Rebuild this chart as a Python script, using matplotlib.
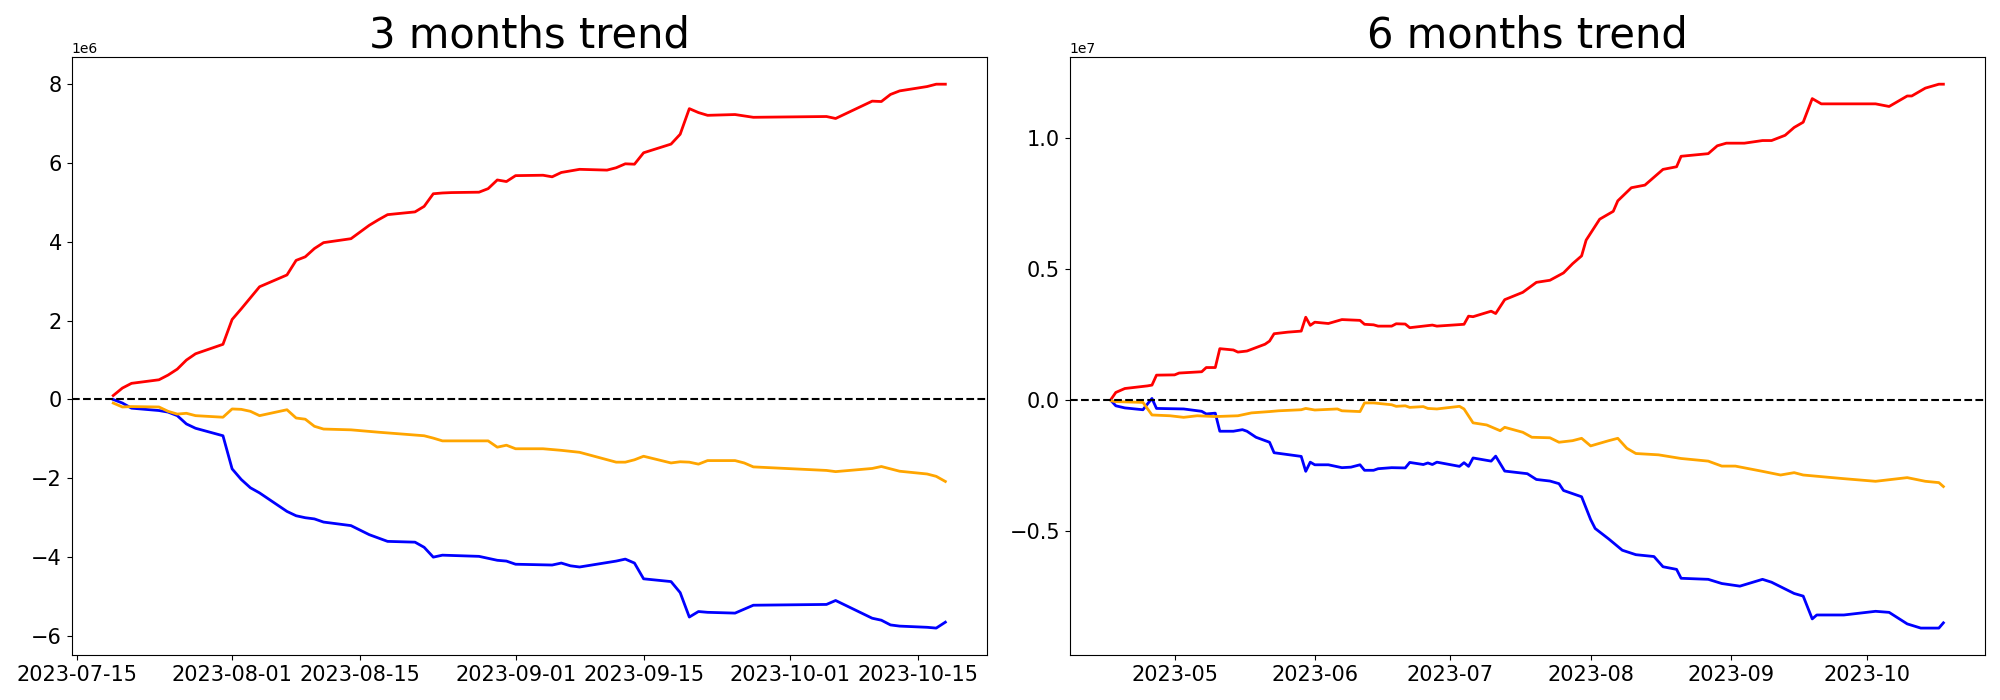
import matplotlib
matplotlib.use("Agg")
import matplotlib.pyplot as plt
import pandas as pd

# ---- 3 months data (values in units of 1e6) ----
red3_dates = ['07-19', '07-20', '07-21', '07-24', '07-25', '07-26', '07-27', '07-28', '07-31',
              '08-01', '08-02', '08-03', '08-04', '08-07', '08-08', '08-09', '08-10', '08-11',
              '08-14', '08-15', '08-16', '08-17', '08-18', '08-21', '08-22', '08-23', '08-24',
              '08-25', '08-28', '08-29', '08-30', '08-31', '09-01', '09-04', '09-05', '09-06',
              '09-08', '09-11', '09-12', '09-13', '09-14', '09-15', '09-18', '09-19', '09-20',
              '09-21', '09-22', '09-25', '09-27', '10-05', '10-06', '10-10', '10-11', '10-12',
              '10-13', '10-16', '10-17', '10-18']
red3_vals = [0.10, 0.29, 0.41, 0.50, 0.62, 0.77, 1.00, 1.16, 1.40,
             2.03, 2.30, 2.58, 2.86, 3.16, 3.53, 3.62, 3.83, 3.98,
             4.08, 4.25, 4.42, 4.56, 4.69, 4.76, 4.90, 5.22, 5.24,
             5.25, 5.26, 5.35, 5.57, 5.53, 5.68, 5.69, 5.65, 5.76,
             5.84, 5.82, 5.88, 5.98, 5.97, 6.26, 6.48, 6.73, 7.38,
             7.28, 7.21, 7.23, 7.16, 7.18, 7.13, 7.57, 7.56, 7.74,
             7.83, 7.94, 8.00, 8.00]

orange3_dates = ['07-19', '07-20', '07-21', '07-24', '07-25', '07-26', '07-27', '07-28', '07-31',
                 '08-01', '08-02', '08-03', '08-04', '08-07', '08-08', '08-09', '08-10', '08-11',
                 '08-14', '08-16', '08-17', '08-22', '08-23', '08-24', '08-25', '08-29', '08-30',
                 '08-31', '09-01', '09-04', '09-06', '09-08', '09-12', '09-13', '09-14', '09-15',
                 '09-18', '09-19', '09-20', '09-21', '09-22', '09-25', '09-26', '09-27', '10-05',
                 '10-06', '10-10', '10-11', '10-13', '10-16', '10-17', '10-18']
orange3_vals = [-0.09, -0.19, -0.18, -0.19, -0.30, -0.37, -0.35, -0.41, -0.45,
                -0.24, -0.25, -0.30, -0.41, -0.26, -0.47, -0.50, -0.68, -0.75,
                -0.77, -0.81, -0.83, -0.92, -0.98, -1.05, -1.05, -1.05, -1.21,
                -1.16, -1.25, -1.25, -1.29, -1.34, -1.59, -1.59, -1.53, -1.44,
                -1.61, -1.58, -1.59, -1.64, -1.55, -1.55, -1.61, -1.71, -1.80,
                -1.83, -1.75, -1.70, -1.82, -1.89, -1.95, -2.08]

blue3_dates = ['07-19', '07-20', '07-21', '07-24', '07-25', '07-26', '07-27', '07-28', '07-31',
               '08-01', '08-02', '08-03', '08-04', '08-07', '08-08', '08-09', '08-10', '08-11',
               '08-14', '08-16', '08-18', '08-21', '08-22', '08-23', '08-24', '08-28', '08-30',
               '08-31', '09-01', '09-05', '09-06', '09-07', '09-08', '09-12', '09-13', '09-14',
               '09-15', '09-18', '09-19', '09-20', '09-21', '09-22', '09-25', '09-27', '10-05',
               '10-06', '10-10', '10-11', '10-12', '10-13', '10-16', '10-17', '10-18']
blue3_vals = [0.00, -0.09, -0.22, -0.28, -0.32, -0.41, -0.62, -0.73, -0.92,
              -1.76, -2.03, -2.24, -2.37, -2.84, -2.95, -3.00, -3.03, -3.11,
              -3.20, -3.43, -3.60, -3.62, -3.75, -4.00, -3.95, -3.98, -4.08,
              -4.10, -4.18, -4.20, -4.15, -4.22, -4.25, -4.10, -4.05, -4.15,
              -4.55, -4.62, -4.90, -5.52, -5.38, -5.40, -5.42, -5.22, -5.20,
              -5.10, -5.55, -5.60, -5.72, -5.75, -5.78, -5.80, -5.65]

# ---- 6 months data (values in units of 1e6) ----
red6_dates = ['04-17', '04-18', '04-20', '04-22', '04-24', '04-25', '04-26', '04-27', '05-01',
              '05-02', '05-07', '05-08', '05-10', '05-11', '05-14', '05-15', '05-17', '05-21',
              '05-22', '05-23', '05-26', '05-29', '05-30', '05-31', '06-01', '06-04', '06-07',
              '06-11', '06-12', '06-14', '06-15', '06-18', '06-19', '06-21', '06-22', '06-27',
              '06-28', '07-04', '07-05', '07-06', '07-10', '07-11', '07-13', '07-17', '07-20',
              '07-23', '07-26', '07-28', '07-30', '07-31', '08-03', '08-06', '08-07', '08-10',
              '08-13', '08-17', '08-20', '08-21', '08-27', '08-29', '08-31', '09-04', '09-08',
              '09-10', '09-13', '09-15', '09-17', '09-19', '09-21', '10-03', '10-06', '10-10',
              '10-11', '10-14', '10-17', '10-18']
red6_vals = [0.04, 0.29, 0.44, 0.48, 0.52, 0.54, 0.57, 0.95, 0.96,
             1.03, 1.08, 1.24, 1.24, 1.96, 1.91, 1.83, 1.87, 2.13,
             2.25, 2.53, 2.59, 2.63, 3.16, 2.85, 2.97, 2.92, 3.07,
             3.04, 2.89, 2.87, 2.82, 2.82, 2.91, 2.90, 2.76, 2.86,
             2.82, 2.89, 3.20, 3.18, 3.39, 3.30, 3.83, 4.11, 4.49,
             4.57, 4.85, 5.20, 5.50, 6.10, 6.90, 7.20, 7.60, 8.10,
             8.20, 8.80, 8.90, 9.30, 9.40, 9.70, 9.80, 9.80, 9.90,
             9.90, 10.10, 10.40, 10.60, 11.50, 11.30, 11.30, 11.20, 11.60,
             11.60, 11.90, 12.05, 12.05]

orange6_dates = ['04-17', '04-18', '04-24', '04-26', '04-30', '05-03', '05-06', '05-10', '05-15',
                 '05-18', '05-22', '05-24', '05-29', '05-30', '06-01', '06-06', '06-07', '06-11',
                 '06-12', '06-14', '06-18', '06-19', '06-21', '06-22', '06-25', '06-26', '06-28',
                 '07-03', '07-04', '07-06', '07-09', '07-12', '07-13', '07-17', '07-19', '07-23',
                 '07-25', '07-28', '07-30', '08-01', '08-05', '08-07', '08-09', '08-11', '08-16',
                 '08-21', '08-27', '08-30', '09-02', '09-08', '09-12', '09-15', '09-17', '09-26',
                 '10-03', '10-10', '10-14', '10-17', '10-18']
orange6_vals = [-0.03, -0.06, -0.09, -0.57, -0.60, -0.66, -0.60, -0.63, -0.60,
                -0.49, -0.44, -0.41, -0.37, -0.32, -0.38, -0.34, -0.41, -0.44,
                -0.11, -0.11, -0.18, -0.24, -0.22, -0.28, -0.25, -0.32, -0.34,
                -0.24, -0.34, -0.87, -0.95, -1.17, -1.04, -1.23, -1.42, -1.44,
                -1.61, -1.55, -1.46, -1.75, -1.55, -1.46, -1.84, -2.04, -2.09,
                -2.23, -2.33, -2.52, -2.52, -2.72, -2.86, -2.77, -2.86, -3.00,
                -3.10, -2.96, -3.10, -3.15, -3.30]

blue6_dates = ['04-17', '04-18', '04-20', '04-24', '04-25', '04-26', '04-27', '05-03', '05-07',
               '05-08', '05-10', '05-11', '05-14', '05-16', '05-17', '05-19', '05-22', '05-23',
               '05-26', '05-29', '05-30', '05-31', '06-01', '06-04', '06-07', '06-09', '06-11',
               '06-12', '06-14', '06-15', '06-18', '06-21', '06-22', '06-25', '06-26', '06-27',
               '06-28', '07-03', '07-04', '07-05', '07-06', '07-10', '07-11', '07-13', '07-18',
               '07-20', '07-23', '07-25', '07-26', '07-30', '08-01', '08-02', '08-05', '08-08',
               '08-11', '08-15', '08-17', '08-20', '08-21', '08-27', '08-30', '09-03', '09-08',
               '09-10', '09-15', '09-17', '09-19', '09-20', '09-26', '10-03', '10-06', '10-10',
               '10-13', '10-17', '10-18']
blue6_vals = [-0.03, -0.22, -0.30, -0.37, -0.15, 0.06, -0.32, -0.34, -0.43,
              -0.53, -0.50, -1.19, -1.19, -1.13, -1.19, -1.42, -1.61, -2.01,
              -2.08, -2.15, -2.72, -2.37, -2.47, -2.47, -2.58, -2.56, -2.47,
              -2.68, -2.68, -2.62, -2.58, -2.59, -2.38, -2.46, -2.40, -2.46,
              -2.37, -2.53, -2.39, -2.53, -2.21, -2.33, -2.14, -2.71, -2.81,
              -3.03, -3.09, -3.19, -3.45, -3.69, -4.56, -4.90, -5.30, -5.73,
              -5.90, -5.97, -6.36, -6.46, -6.80, -6.84, -7.00, -7.10, -6.84,
              -6.95, -7.38, -7.48, -8.35, -8.20, -8.20, -8.06, -8.10, -8.54,
              -8.70, -8.70, -8.50]

titles = ['3 months trend', '6 months trend']


def to_dt(days):
    return pd.to_datetime(['2023-' + d for d in days])


def scaled(vals):
    return [v * 1e6 for v in vals]


panels = [
    [(red3_dates, red3_vals, 'red'), (blue3_dates, blue3_vals, 'blue'), (orange3_dates, orange3_vals, 'orange')],
    [(red6_dates, red6_vals, 'red'), (blue6_dates, blue6_vals, 'blue'), (orange6_dates, orange6_vals, 'orange')],
]

fig, axes = plt.subplots(1, 2, figsize=(20, 7))
for ax, series, title in zip(axes, panels, titles):
    for d, v, c in series:
        ax.plot(to_dt(d), scaled(v), color=c, linewidth=2)
    ax.axhline(0, color='black', linestyle='--', linewidth=1.5)
    ax.set_title(title, fontsize=30)
    ax.tick_params(labelsize=15)

plt.tight_layout()
plt.savefig('out.png', dpi=100)
